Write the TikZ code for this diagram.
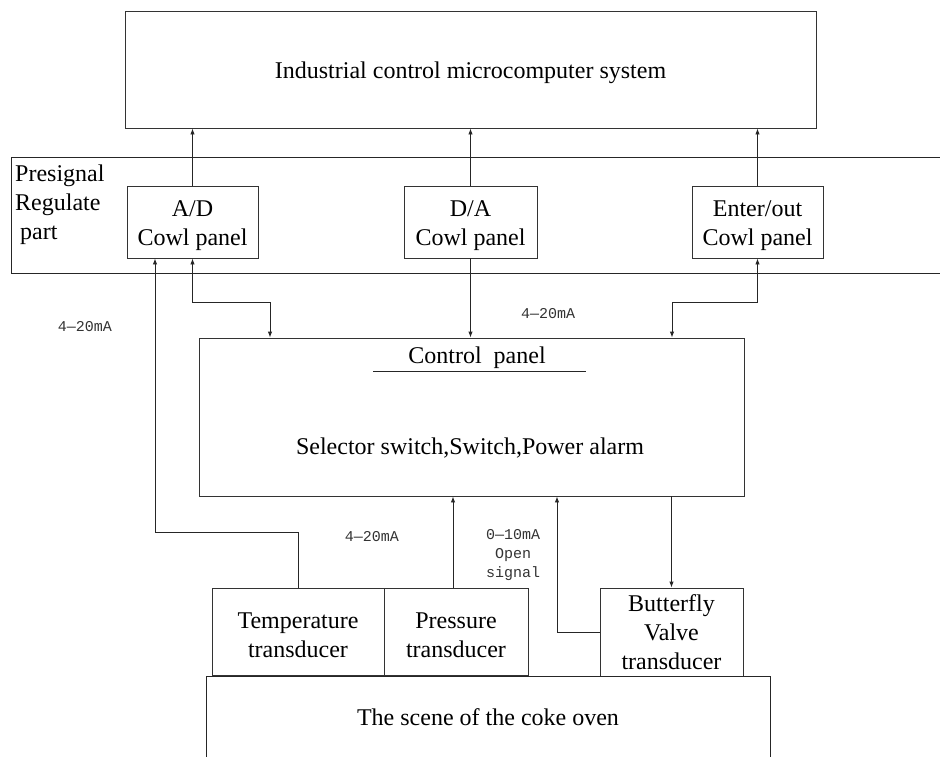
\documentclass[tikz,border=0pt]{standalone}
\usepackage{fontspec}
\setmainfont{Liberation Serif}
\newfontfamily\labfont{Liberation Mono}
\usetikzlibrary{arrows.meta}
\newcommand{\topstrut}{\rule{0pt}{23pt}}
\begin{document}
\begin{tikzpicture}[x=1pt,y=-1pt,
  box/.style={draw=black!80, line width=0.9pt, inner sep=0pt, align=center, font=\fontsize{24}{29}\selectfont},
  txt/.style={inner sep=0pt, align=center, font=\fontsize{24}{29}\selectfont},
  con/.style={draw=black!85, line width=0.9pt},
  arr/.style={con, -{Latex[length=6pt,width=4.5pt]}},
  both/.style={con, {Latex[length=6pt,width=4.5pt]}-{Latex[length=6pt,width=4.5pt]}},
  lab/.style={inner sep=0pt, font=\labfont\fontsize{15}{19}\selectfont, align=center, text=black!80}]
\useasboundingbox (0,0) rectangle (940,756);

% top system
\node[box, minimum width=691pt, minimum height=117pt] (top) at (470.5,69.5) {\topstrut Industrial control microcomputer system};

% presignal band
\draw[con] (948,157) -- (11,157) -- (11,273) -- (948,273);
\node[txt, anchor=north west, align=left] (bandlbl) at (15,165) {Presignal\\Regulate\\\hspace{5pt}part};

% cowl panels
\node[box, minimum width=131pt, minimum height=72pt] (AD) at (192.5,222) {\topstrut A/D\\Cowl panel};
\node[box, minimum width=133pt, minimum height=72pt] (DA) at (470.5,222) {\topstrut D/A\\Cowl panel};
\node[box, minimum width=131pt, minimum height=72pt] (EO) at (757.5,222) {\topstrut Enter/out\\Cowl panel};

% control panel
\node[box, minimum width=545pt, minimum height=158pt] (CP) at (471.5,417) {};
\node[txt] (cptitle) at (477,358) {Control\ \ panel};
\draw[con] (373,371) -- (586,371);
\node[txt] (cpsel) at (470,448) {Selector switch,Switch,Power alarm};

% transducers
\node[box, minimum width=172pt, minimum height=87pt] (TT) at (298,631.5) {\topstrut Temperature\\transducer};
\node[box, minimum width=144pt, minimum height=87pt] (PT) at (456,631.5) {\topstrut Pressure\\transducer};
\node[box, minimum width=143pt, minimum height=88pt] (BV) at (671.5,632) {Butterfly\\Valve\\transducer};

% coke oven
\draw[con] (206,770) -- (206,676) -- (770,676) -- (770,770);
\node[txt] (coke) at (488,717) {The scene of the coke oven};

% labels
\node[lab] (l1) at (85,327) {4—20mA};
\node[lab] (l2) at (548,314) {4—20mA};
\node[lab] (l3) at (372,537) {4—20mA};
\node[lab] (l4) at (513,555) {0—10mA\\Open\\signal};

% helper coordinates
\coordinate (k1) at (270,302);
\coordinate (k2) at (672,302);
\coordinate (k3) at (155,532);
\coordinate (k4) at (453,560);
\coordinate (k5) at (557,560);

% connectors
\draw[arr] (AD.north) -- (AD.north |- top.south);
\draw[arr] (DA.north) -- (DA.north |- top.south);
\draw[arr] (EO.north) -- (EO.north |- top.south);
\draw[both] (AD.south) |- (k1) -- (k1 |- CP.north);
\draw[arr] (DA.south) -- (DA.south |- CP.north);
\draw[both] (EO.south) |- (k2) -- (k2 |- CP.north);
\draw[arr] (TT.north) |- (k3) -- (k3 |- AD.south);
\draw[arr] (k4 |- PT.north) -- (k4 |- CP.south);
\draw[arr] (BV.west) -| (k5 |- CP.south);
\draw[arr] (CP.south -| BV.north) -- (BV.north);
\end{tikzpicture}
\end{document}
